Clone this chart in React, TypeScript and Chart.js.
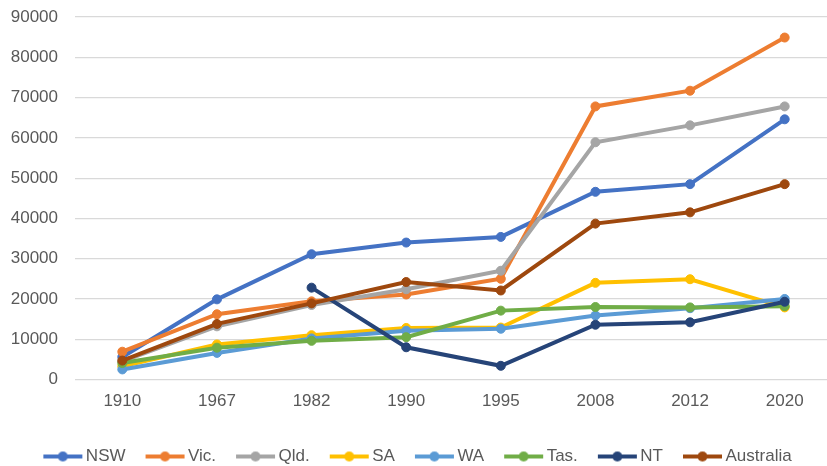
import React, { useEffect, useRef } from "react";
import { Chart, registerables } from "chart.js";

Chart.register(...registerables);

const years = ["1910", "1967", "1982", "1990", "1995", "2008", "2012", "2020"];
const seriesNames = ["NSW", "Vic.", "Qld.", "SA", "WA", "Tas.", "NT", "Australia"];
const nsw = [5600, 19900, 31100, 34000, 35400, 46600, 48500, 64600];
const vic = [6900, 16200, 19400, 21100, 25000, 67800, 71700, 84900];
const qld = [4500, 13200, 18500, 22400, 27000, 58900, 63100, 67800];
const sa = [3300, 8700, 11000, 12800, 12900, 24000, 24900, 17900];
const wa = [2500, 6600, 10200, 12100, 12600, 15900, 17700, 20000];
const tas = [4100, 7900, 9600, 10500, 17100, 18000, 17900, 18200];
const nt = [null, null, 22800, 8000, 3400, 13600, 14200, 19300];
const australia = [4700, 13800, 18900, 24200, 22100, 38700, 41500, 48500];
const seriesValues = [nsw, vic, qld, sa, wa, tas, nt, australia];
const colors = ["#4472C4", "#ED7D31", "#A5A5A5", "#FFC000", "#5B9BD5", "#70AD47", "#264478", "#9E480E"];

const FONT = "'Liberation Sans', Arial, sans-serif";
const BOX_W = 44;

function makeMarker(color: string): HTMLCanvasElement {
  const c = document.createElement("canvas");
  const W = BOX_W + 12;
  c.width = W;
  c.height = 12;
  const ctx = c.getContext("2d")!;
  ctx.strokeStyle = color;
  ctx.lineWidth = 4;
  ctx.lineCap = "butt";
  ctx.beginPath();
  ctx.moveTo(W - 40, 6);
  ctx.lineTo(W - 1, 6);
  ctx.stroke();
  ctx.fillStyle = color;
  ctx.beginPath();
  ctx.arc(W - 20.5, 6, 5, 0, Math.PI * 2);
  ctx.fill();
  return c;
}

export default function App() {
  const ref = useRef<HTMLCanvasElement | null>(null);
  useEffect(() => {
    if (!ref.current) return;
    const markers = colors.map(makeMarker);
    const chart = new Chart(ref.current, {
      type: "line",
      data: {
        labels: years,
        datasets: seriesNames.map((name, i) => ({
          label: name,
          data: seriesValues[i],
          borderColor: colors[i],
          backgroundColor: colors[i],
          pointBackgroundColor: colors[i],
          pointBorderColor: colors[i],
          borderWidth: 4,
          pointRadius: 4.5,
          pointBorderWidth: 1,
          pointHoverRadius: 4.5,
          tension: 0,
          fill: false,
          clip: 10,
          order: 8 - i,
        })),
      },
      options: {
        animation: false,
        responsive: true,
        maintainAspectRatio: false,
        layout: { autoPadding: false, padding: { top: 17, left: -7, right: 0, bottom: -9 } },
        plugins: {
          tooltip: { enabled: false },
          legend: {
            position: "bottom",
            labels: {
              usePointStyle: true,
              pointStyleWidth: BOX_W,
              padding: 10,
              color: "#595959",
              font: { family: FONT, size: 17 },
              sort: (a: any, b: any) => a.datasetIndex - b.datasetIndex,
              generateLabels: (ch: any) => {
                const items = Chart.defaults.plugins.legend.labels.generateLabels(ch);
                return items.map((it: any) => ({ ...it, pointStyle: markers[it.datasetIndex] }));
              },
            },
          },
        },
        scales: {
          x: {
            offset: true,
            grid: { display: false, drawTicks: false },
            border: { display: false },
            ticks: { color: "#595959", font: { family: FONT, size: 17 }, padding: 11.5 },
            afterFit: (s: any) => {
              s.height = 58.5;
              s.paddingLeft = 0;
              s.paddingRight = 0;
            },
          },
          y: {
            min: 0,
            max: 90000,
            grid: { color: "#D9D9D9", lineWidth: 1.2, drawTicks: false },
            border: { display: false },
            ticks: {
              stepSize: 10000,
              color: "#595959",
              font: { family: FONT, size: 17 },
              padding: 17,
              callback: (v: any) => String(v),
            },
            afterFit: (s: any) => {
              s.width = 82;
              s.paddingTop = 0;
              s.paddingBottom = 0;
            },
          },
        },
      },
    });
    return () => chart.destroy();
  }, []);
  return (
    <div style={{ position: "absolute", left: 0, top: 0, width: 827, height: 466, overflow: "hidden", background: "#fff" }}>
      <div style={{ position: "relative", width: 832, height: 466 }}>
        <canvas ref={ref} />
      </div>
    </div>
  );
}
